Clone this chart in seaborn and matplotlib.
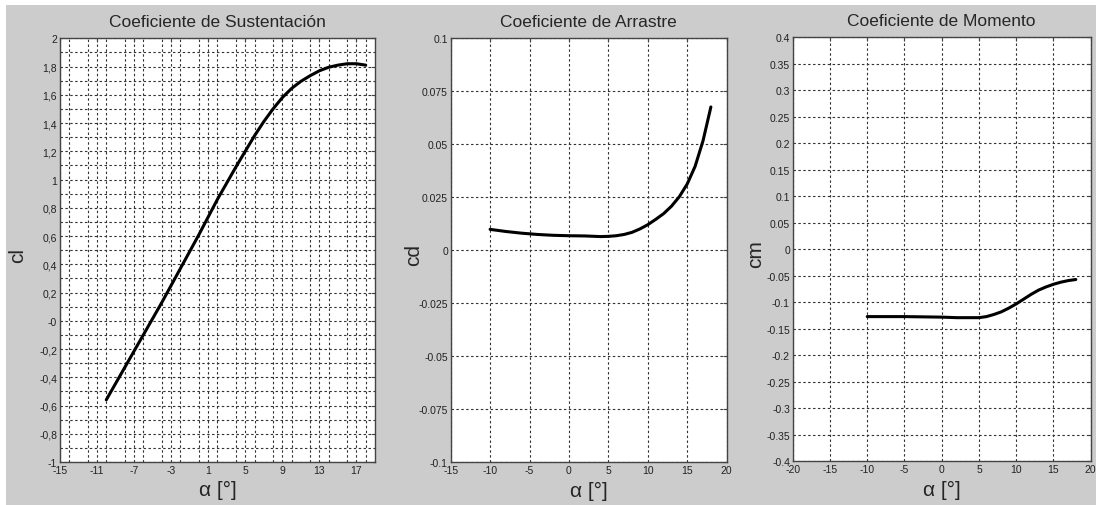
import numpy as np
import seaborn as sns
import matplotlib.pyplot as plt
from matplotlib.patches import Rectangle
from matplotlib.ticker import MultipleLocator

# angle of attack [deg]
alpha_cl = [-10, -8, -6, -4, -2, 0, 2, 4, 5, 6, 7, 8, 9, 10, 11, 12, 13, 14, 15, 16, 17, 18]
cl = [-0.56, -0.33, -0.10, 0.13, 0.37, 0.61, 0.86, 1.09, 1.20, 1.31, 1.41, 1.50, 1.58,
      1.645, 1.695, 1.735, 1.77, 1.795, 1.81, 1.82, 1.82, 1.81]

alpha_cd = [-10, -8, -6, -4, -2, 0, 2, 4, 5, 6, 7, 8, 9, 10, 11, 12, 13, 14, 15, 16, 17, 18]
cd = [0.0098, 0.0088, 0.0080, 0.0074, 0.0070, 0.0068, 0.0067, 0.0064, 0.0065, 0.0068,
      0.0074, 0.0084, 0.0100, 0.0120, 0.0145, 0.0172, 0.0207, 0.0252, 0.0312, 0.0395,
      0.0515, 0.0675]

alpha_cm = [-10, -5, 0, 2, 4, 5, 6, 7, 8, 9, 10, 11, 12, 13, 14, 15, 16, 17, 18]
cm = [-0.127, -0.127, -0.128, -0.129, -0.129, -0.129, -0.127, -0.123, -0.118, -0.111,
      -0.103, -0.094, -0.085, -0.077, -0.071, -0.066, -0.062, -0.059, -0.057]

cl_yticks = [-1, -0.8, -0.6, -0.4, -0.2, 0, 0.2, 0.4, 0.6, 0.8, 1, 1.2, 1.4, 1.6, 1.8, 2]
cl_ylabels = ["-1", "-0,8", "-0,6", "-0,4", "-0,2", "-0", "0,2", "0,4", "0,6", "0,8",
              "1", "1,2", "1,4", "1,6", "1,8", "2"]
cl_xticks = [-15, -11, -7, -3, 1, 5, 9, 13, 17]

cd_yticks = [-0.1, -0.075, -0.05, -0.025, 0, 0.025, 0.05, 0.075, 0.1]
cd_ylabels = ["-0.1", "-0.075", "-0.05", "-0.025", "0", "0.025", "0.05", "0.075", "0.1"]
cm_yticks = [-0.4, -0.35, -0.3, -0.25, -0.2, -0.15, -0.1, -0.05, 0, 0.05, 0.1, 0.15,
             0.2, 0.25, 0.3, 0.35, 0.4]
cm_ylabels = ["-0.4", "-0.35", "-0.3", "-0.25", "-0.2", "-0.15", "-0.1", "-0.05", "0",
              "0.05", "0.1", "0.15", "0.2", "0.25", "0.3", "0.35", "0.4"]

sns.set_style("white")
plt.rcParams['font.family'] = ['Liberation Sans', 'DejaVu Sans']
plt.rcParams['axes.unicode_minus'] = False

fig = plt.figure(figsize=(10.96, 5.06), dpi=100, facecolor="white")
fig.patches.append(Rectangle((6 / 1096, 0), 1, (506 - 6) / 506, transform=fig.transFigure,
                             facecolor="#cccccc", edgecolor="none", zorder=-10))

ax1 = fig.add_axes([0.0547, 0.0850, 0.2874, 0.8373])
ax2 = fig.add_axes([0.4112, 0.0844, 0.2518, 0.8385])
ax3 = fig.add_axes([0.7233, 0.0864, 0.2719, 0.8379])

grid_kw = dict(color="#333333", linestyle=(0, (2.2, 2.2)), linewidth=0.8)


def style_axis(ax, ylab_x):
    ax.set_facecolor("white")
    for s in ax.spines.values():
        s.set_color("#444444")
        s.set_linewidth(1.0)
        s.set_visible(True)
    ax.tick_params(direction="in", length=3, width=0.8, color="#444444",
                   labelsize=7.5, labelcolor="#222222", top=True, right=True, pad=2)
    ax.tick_params(which="minor", length=0)
    ax.set_axisbelow(True)
    ax.yaxis.set_label_coords(ylab_x, 0.49)
    ax.title.set_fontsize(12.5)


# Lift
sns.lineplot(x=alpha_cl, y=cl, ax=ax1, color="black", linewidth=2.2, sort=False)
ax1.set_xlim(-15, 19)
ax1.set_ylim(-1, 2)
ax1.set_xticks(cl_xticks)
ax1.xaxis.set_minor_locator(MultipleLocator(2))
ax1.set_yticks(cl_yticks)
ax1.set_yticklabels(cl_ylabels)
ax1.yaxis.set_minor_locator(MultipleLocator(0.1))
ax1.grid(True, which="both", **grid_kw)
ax1.set_title("Coeficiente de Sustentación", pad=9)
ax1.set_ylabel("cl", fontsize=15)
ax1.set_xlabel("α [°]", fontsize=15, labelpad=4)
style_axis(ax1, -0.105)

# Drag
sns.lineplot(x=alpha_cd, y=cd, ax=ax2, color="black", linewidth=2.2, sort=False)
ax2.set_xlim(-15, 20)
ax2.set_ylim(-0.1, 0.1)
ax2.set_xticks(np.arange(-15, 21, 5))
ax2.set_yticks(cd_yticks)
ax2.set_yticklabels(cd_ylabels)
ax2.grid(True, which="major", **grid_kw)
ax2.set_title("Coeficiente de Arrastre", pad=9)
ax2.set_ylabel("cd", fontsize=15)
ax2.set_xlabel("α [°]", fontsize=15, labelpad=4)
style_axis(ax2, -0.10)

# Moment
sns.lineplot(x=alpha_cm, y=cm, ax=ax3, color="black", linewidth=2.2, sort=False)
ax3.set_xlim(-20, 20)
ax3.set_ylim(-0.4, 0.4)
ax3.set_xticks(np.arange(-20, 21, 5))
ax3.set_yticks(cm_yticks)
ax3.set_yticklabels(cm_ylabels)
ax3.grid(True, which="major", **grid_kw)
ax3.set_title("Coeficiente de Momento", pad=9)
ax3.set_ylabel("cm", fontsize=15)
ax3.set_xlabel("α [°]", fontsize=15, labelpad=4)
style_axis(ax3, -0.093)

fig.savefig("out.png", dpi=100, facecolor=fig.get_facecolor())
